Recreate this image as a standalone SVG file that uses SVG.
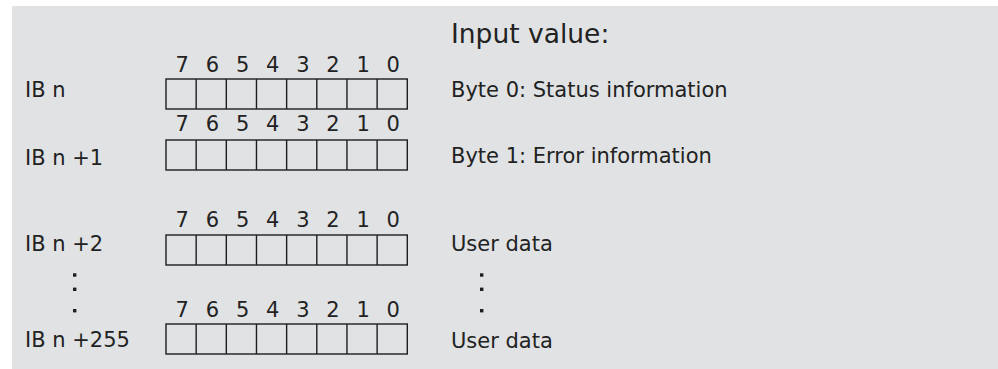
<svg xmlns="http://www.w3.org/2000/svg" width="998" height="369" viewBox="0 0 998 369">
  <defs>
    <style>
      .bg { fill: #e1e2e4; }
      .cell { fill: none; stroke: #1e1e1e; stroke-width: 1.4; }
      .dot { fill: #1e1e1e; }
      text { font-family: "DejaVu Sans", "Liberation Sans", sans-serif; fill: #222; }
      .lbl { font-size: 21px; }
      .bit { font-size: 21px; text-anchor: middle; }
      .title { font-size: 26.5px; }
    </style>
    <!-- one byte: 8 bit cells, 30.16 px each -->
    <g id="byte">
      <rect class="cell" x="0" y="0" width="241.3" height="30"/>
      <path class="cell" d="M30.16 0V30M60.32 0V30M90.48 0V30M120.64 0V30M150.8 0V30M180.96 0V30M211.12 0V30"/>
    </g>
    <g id="bits">
      <text class="bit" x="16.3" y="0">7</text>
      <text class="bit" x="46.4" y="0">6</text>
      <text class="bit" x="76.6" y="0">5</text>
      <text class="bit" x="106.7" y="0">4</text>
      <text class="bit" x="136.9" y="0">3</text>
      <text class="bit" x="167" y="0">2</text>
      <text class="bit" x="197.2" y="0">1</text>
      <text class="bit" x="227.3" y="0">0</text>
    </g>
    <!-- vertical ellipsis -->
    <g id="vdots">
      <rect class="dot" x="-1.7" y="-1.7" width="3.4" height="3.4"/>
      <rect class="dot" x="-1.7" y="12.6" width="3.4" height="3.4"/>
      <rect class="dot" x="-1.7" y="34" width="3.4" height="3.4"/>
    </g>
  </defs>

  <rect class="bg" x="12" y="6" width="986" height="363"/>

  <text class="title" x="451" y="43">Input value:</text>

  <g id="ib0">
    <text class="lbl" x="25" y="97">IB n</text>
    <use href="#bits" x="166" y="71.5"/>
    <use href="#byte" x="166" y="79"/>
    <text class="lbl" x="451" y="97">Byte 0: Status information</text>
  </g>

  <g id="ib1">
    <text class="lbl" x="25" y="165">IB n +1</text>
    <use href="#bits" x="166" y="131"/>
    <use href="#byte" x="166" y="140"/>
    <text class="lbl" x="451" y="162.5">Byte 1: Error information</text>
  </g>

  <g id="ib2">
    <text class="lbl" x="25" y="251">IB n +2</text>
    <use href="#bits" x="166" y="226.5"/>
    <use href="#byte" x="166" y="235"/>
    <text class="lbl" x="451" y="250.5">User data</text>
  </g>

  <!-- continuation marks -->
  <g id="gap">
    <use href="#vdots" x="74.7" y="275"/>
    <use href="#vdots" x="481.7" y="275"/>
  </g>

  <g id="ib255">
    <text class="lbl" x="25" y="347">IB n +255</text>
    <use href="#bits" x="166" y="316.5"/>
    <use href="#byte" x="166" y="324"/>
    <text class="lbl" x="451" y="347.5">User data</text>
  </g>
</svg>
